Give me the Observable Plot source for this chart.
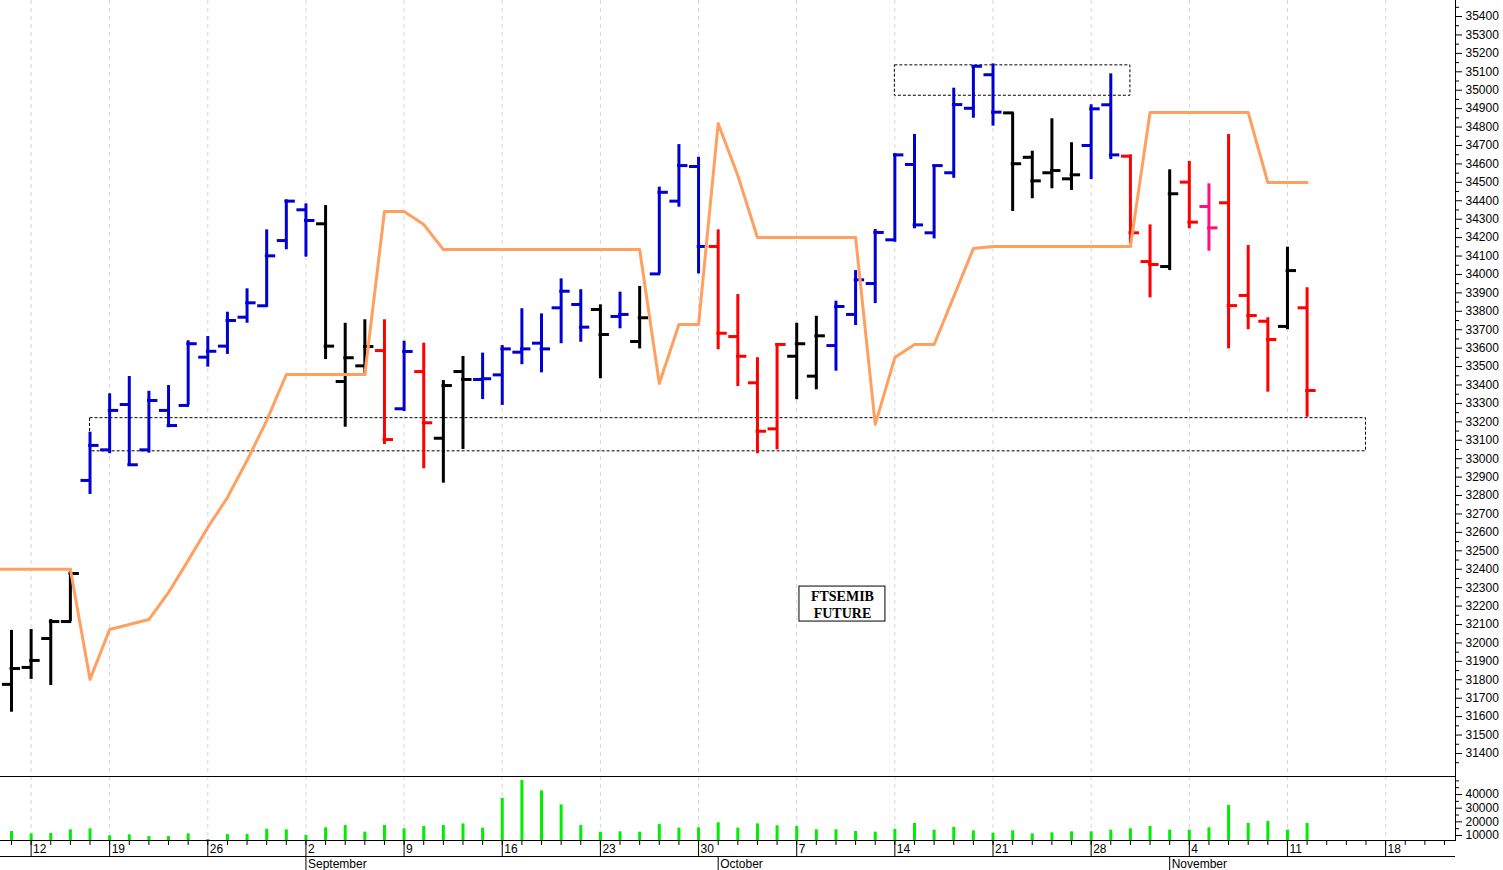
<!DOCTYPE html>
<html>
<head>
<meta charset="utf-8">
<script src="https://cdn.jsdelivr.net/npm/d3@7"></script>
<script src="https://cdn.jsdelivr.net/npm/@observablehq/plot@0.6"></script>
<style>
  html, body { margin: 0; padding: 0; background: #ffffff; }
  #wrap { position: relative; width: 1503px; height: 870px; overflow: hidden; background: #fff; }
  #wrap svg { position: absolute; left: 0; overflow: visible; }
</style>
</head>
<body>
<div id="wrap"></div>
<script>
// ---- data (trading-day index 0 = Fri 9 Aug 2024) ----
const openP  = [31775,31867,32024,32116,32882,33048,33294,33048,33262,33289,33551,33611,33768,33830,34184,34351,34275,33419,33504,33587,33271,33473,33111,33473,33430,33455,33578,33627,33819,33837,33810,33772,33636,34003,34398,34586,34152,33663,33412,33162,33556,33448,33614,33783,33951,34188,34597,34226,34552,34902,35084,34877,34636,34552,34519,34700,34921,34642,34070,34043,34501,34369,34389,33886,33746,33718,33819];
const highP  = [32068,32073,32127,32399,33144,33352,33446,33366,33397,33640,33663,33795,33922,34242,34405,34383,34374,33735,33754,33754,33638,33627,33424,33555,33573,33614,33814,33786,33976,33917,33835,33904,33935,34474,34705,34636,34242,33891,33548,33624,33735,33773,33855,34021,34244,34655,34760,34591,35011,35134,35143,34877,34669,34845,34715,34921,35089,34649,34269,34568,34613,34492,34760,34157,33765,34148,33928];
const lowP   = [31624,31802,31769,32116,32806,33027,32959,33030,33168,33289,33497,33566,33735,33822,34134,34094,33538,33171,33461,33077,33256,32945,32867,33050,33321,33289,33510,33466,33624,33632,33434,33705,33596,34003,34365,34003,33591,33392,33027,33048,33320,33374,33475,33723,33842,34175,34248,34193,34522,34848,34805,34342,34411,34465,34456,34515,34624,34166,33873,34021,34248,34126,33596,33700,33361,33700,33225];
const closeP = [31861,31905,32116,32377,33072,33262,32967,33316,33180,33624,33583,33750,33846,34101,34398,34293,33611,33548,33609,33104,33582,33195,33397,33430,33434,33596,33596,33596,33909,33714,33674,33783,33765,34446,34591,34152,33681,33556,33149,33620,33624,33667,33826,33971,34228,34649,34269,34591,34922,35130,34881,34601,34508,34564,34541,34899,34649,34226,34054,34438,34284,34253,33831,33777,33647,34021,33370];
const barColor = "kkkkbbbbbbbbbbbbkkkrbrkkbbbbbbkbkbbbrrrrkkbbbbbbbbbkkkkbbrrkrprrrkr";
const volume = [12940,11200,11500,14150,14900,9750,10500,9300,9300,11200,7100,10700,10700,14600,14150,10000,15600,17300,12450,17300,14900,16600,17300,18500,15400,37100,50250,42700,32450,17300,12450,12700,12450,18000,15400,15600,19300,15400,18500,17100,16600,14150,14150,12950,12450,14400,18800,13900,15900,13400,11700,13400,11200,11950,12700,12700,13900,14900,16600,13900,13900,15600,32000,18800,20250,13900,18800];
// orange indicator, from index -1 to 66
const orangeLine = [32400,32400,32400,32400,32400,31802,32073,32100,32127,32274,32448,32627,32789,32990,33207,33457,33457,33457,33457,33457,34342,34342,34271,34135,34135,34135,34135,34135,34135,34135,34135,34135,34135,34135,33408,33728,33728,34819,34537,34201,34201,34201,34201,34201,34201,33186,33549,33620,33620,33880,34141,34152,34152,34152,34152,34152,34152,34152,34152,34879,34879,34879,34879,34879,34879,34499,34499,34499];
const mondayIdx = [1,5,10,15,20,25,30,35,40,45,50,55,60,65,70];
const mondayLabels = ["12","19","26","2","9","16","23","30","7","14","21","28","4","11","18"];
const monthIdx = [15,36,59];
const monthNames = ["September","October","November"];
const supportZone = {from: 4, to: 69, low: 33040, high: 33220};
const resistZone = {from: 45, to: 57, low: 34970, high: 35135};
const nDays = 74;

const palette = {k: "#000000", b: "#0000d2", r: "#ff0000", p: "#ff1080"};
const bars = openP.map((o, i) => ({i, open: o, high: highP[i], low: lowP[i], close: closeP[i], color: palette[barColor[i]]}));
const orange = orangeLine.map((v, k) => ({i: k - 1, v}));
const vols = volume.map((v, i) => ({i, v}));

const W = 1503, RIGHT = 48;
const xDomain = [-0.56, 73.56];
const font = "'Liberation Sans', Arial, sans-serif";
const grid = {stroke: "#d4d6e6", strokeDasharray: "4,4", strokeWidth: 1};

const tick = 0.46; // tick length in day units
const priceMajor = d3.range(31400, 35401, 100);
const priceMinor = d3.range(31300, 35500, 50).filter(v => v % 100 !== 0);

const price = Plot.plot({
  width: W, height: 776, marginLeft: 0, marginRight: RIGHT, marginTop: 0, marginBottom: 0,
  x: {domain: xDomain, axis: null},
  y: {domain: [31275, 35487], axis: null},
  style: {fontFamily: font, fontSize: "12px", color: "#000", background: "transparent"},
  marks: [
    Plot.ruleX(mondayIdx, grid),
    Plot.rect([supportZone, resistZone], {x1: "from", x2: "to", y1: "low", y2: "high", fill: "none", stroke: "#000", strokeWidth: 1, strokeDasharray: "3,2"}),
    Plot.ruleX(bars, {x: "i", y1: "low", y2: "high", stroke: "color", strokeWidth: 3}),
    Plot.ruleY(bars, {y: "open", x1: d => d.i - tick, x2: d => d.i + 0.07, stroke: "color", strokeWidth: 3}),
    Plot.ruleY(bars, {y: "close", x1: d => d.i - 0.07, x2: d => d.i + tick, stroke: "color", strokeWidth: 3}),
    Plot.line(orange, {x: "i", y: "v", stroke: "#ffa060", strokeWidth: 3, clip: true}),
    Plot.rect([{}], {x1: 40.14, x2: 44.52, y1: 32116, y2: 32306, fill: "#fff", stroke: "#000", strokeWidth: 1}),
    Plot.text(["FTSEMIB\nFUTURE"], {x: 42.33, y: 32211, text: d => d, fontFamily: "'Liberation Serif', 'Times New Roman', serif", fontWeight: "bold", fontSize: 14, lineHeight: 1.25}),
    Plot.axisY(priceMajor, {anchor: "right", label: null, tickSize: 6, tickPadding: 4, tickFormat: d => String(d), fontSize: 12}),
    Plot.axisY(priceMinor, {anchor: "right", label: null, tickSize: 3, tickFormat: () => ""}),
    Plot.frame({anchor: "right"})
  ]
});
price.style.top = "0px";

const volMajor = [10000, 20000, 30000, 40000];
const volMinor = [15000, 25000, 35000, 45000, 50000];
const vol = Plot.plot({
  width: W, height: 64, marginLeft: 0, marginRight: RIGHT, marginTop: 0, marginBottom: 0,
  x: {domain: xDomain, axis: null},
  y: {domain: [6350, 53200], axis: null},
  style: {fontFamily: font, fontSize: "12px", color: "#000", background: "transparent"},
  marks: [
    Plot.ruleX(mondayIdx, grid),
    Plot.ruleX(vols, {x: "i", y1: 6350, y2: "v", stroke: "#00ee00", strokeWidth: 3}),
    Plot.frame({anchor: "top"}),
    Plot.axisY(volMajor, {anchor: "right", label: null, tickSize: 6, tickPadding: 4, tickFormat: d => String(d), fontSize: 12}),
    Plot.axisY(volMinor, {anchor: "right", label: null, tickSize: 3, tickFormat: () => ""}),
    Plot.frame({anchor: "right"})
  ]
});
vol.style.top = "776px";

const allDays = d3.range(nDays);
const strip = Plot.plot({
  width: W, height: 30, marginLeft: 0, marginRight: RIGHT, marginTop: 0, marginBottom: 0,
  x: {domain: xDomain, axis: null},
  y: {domain: [0, 30], range: [0, 30], axis: null},
  style: {fontFamily: font, fontSize: "12px", color: "#000", background: "transparent"},
  marks: [
    Plot.ruleY([0, 16], {stroke: "#000"}),
    Plot.ruleX(allDays, {y1: 0, y2: 5, stroke: "#000"}),
    Plot.ruleX(mondayIdx, {y1: 0, y2: 16, stroke: "#000"}),
    Plot.text(mondayIdx, {x: d => d, y: 8.5, text: (d, k) => mondayLabels[k], textAnchor: "start", dx: 2, fontSize: 12, fill: "#000"}),
    Plot.ruleX(monthIdx, {y1: 16, y2: 30, stroke: "#000"}),
    Plot.text(monthIdx, {x: d => d, y: 24, text: (d, k) => monthNames[k], textAnchor: "start", dx: 2, fontSize: 12, fill: "#000"})
  ]
});
strip.style.top = "840px";

const wrap = document.getElementById("wrap");
wrap.append(price, vol, strip);
</script>
</body>
</html>
